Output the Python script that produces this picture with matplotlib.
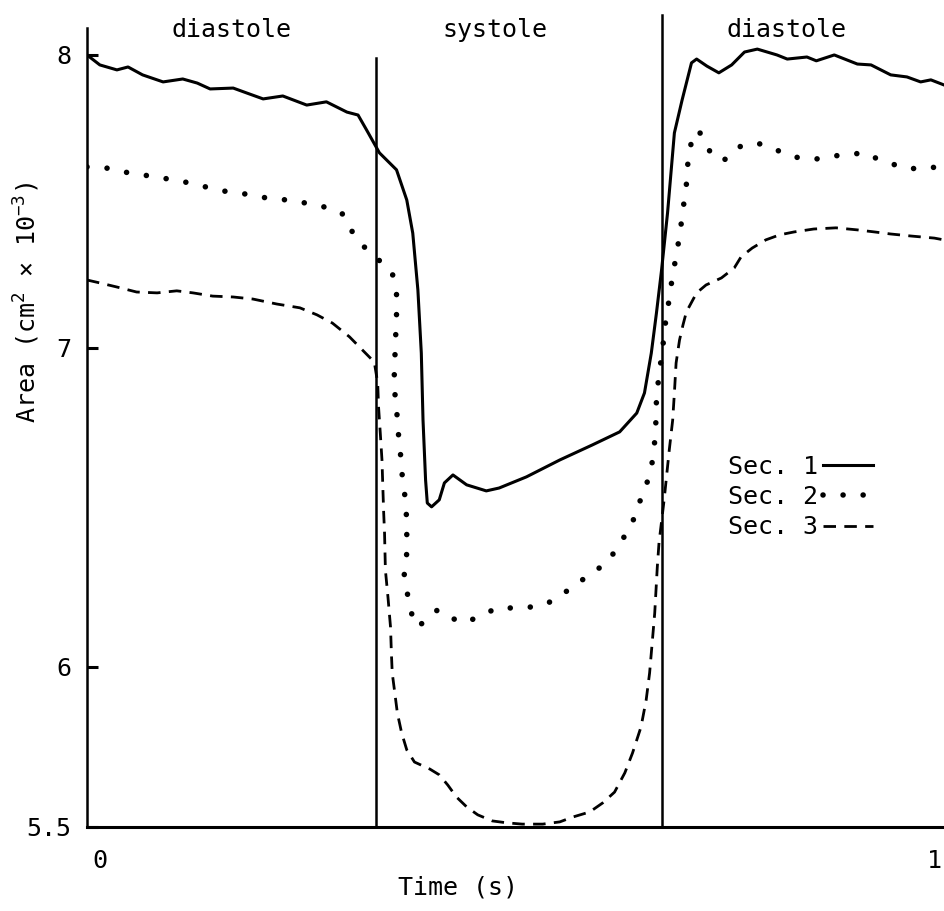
import numpy as np
import matplotlib.pyplot as plt
import matplotlib.transforms as mtransforms

plt.rcParams['font.family'] = 'DejaVu Sans Mono'
plt.rcParams['mathtext.fontset'] = 'custom'
plt.rcParams['mathtext.rm'] = 'DejaVu Sans Mono'
plt.rcParams['mathtext.default'] = 'rm'

# time (s) and area (cm^2 x 10^-3)
t1 = [0.000, 0.015, 0.035, 0.048, 0.065, 0.089, 0.112, 0.129, 0.144, 0.171, 0.187, 0.206,
      0.229, 0.257, 0.280, 0.304, 0.317, 0.327, 0.342, 0.362, 0.374, 0.381, 0.387, 0.391,
      0.393, 0.396, 0.398, 0.403, 0.412, 0.418, 0.428, 0.444, 0.467, 0.482, 0.514, 0.553,
      0.591, 0.623, 0.643, 0.652, 0.660, 0.666, 0.672, 0.679, 0.687, 0.696, 0.707, 0.713,
      0.725, 0.739, 0.754, 0.769, 0.784, 0.807, 0.819, 0.842, 0.853, 0.874, 0.901, 0.917,
      0.940, 0.959, 0.975, 0.987, 1.002]
sec1 = [8.000, 7.966, 7.949, 7.959, 7.932, 7.908, 7.918, 7.904, 7.884, 7.887, 7.870, 7.850,
        7.860, 7.829, 7.840, 7.805, 7.795, 7.744, 7.666, 7.608, 7.505, 7.392, 7.198, 6.984,
        6.774, 6.586, 6.514, 6.502, 6.524, 6.577, 6.602, 6.571, 6.552, 6.561, 6.596, 6.649,
        6.696, 6.737, 6.796, 6.859, 6.984, 7.119, 7.266, 7.461, 7.734, 7.846, 7.973, 7.986,
        7.962, 7.939, 7.966, 8.010, 8.020, 8.000, 7.986, 7.993, 7.980, 8.000, 7.969, 7.966,
        7.932, 7.925, 7.908, 7.915, 7.898]

t2 = [0.000, 0.023, 0.039, 0.056, 0.077, 0.105, 0.134, 0.159, 0.184, 0.210, 0.234, 0.255,
      0.278, 0.298, 0.307, 0.319, 0.333, 0.346, 0.357, 0.362, 0.362, 0.361, 0.360, 0.359,
      0.362, 0.364, 0.367, 0.369, 0.373, 0.374, 0.374, 0.371, 0.375, 0.379, 0.386, 0.397,
      0.410, 0.424, 0.439, 0.459, 0.479, 0.500, 0.519, 0.537, 0.555, 0.574, 0.591, 0.609,
      0.623, 0.637, 0.644, 0.654, 0.662, 0.665, 0.666, 0.669, 0.673, 0.676, 0.680, 0.685,
      0.690, 0.694, 0.696, 0.699, 0.702, 0.703, 0.707, 0.715, 0.723, 0.730, 0.744, 0.762,
      0.782, 0.801, 0.815, 0.834, 0.853, 0.873, 0.895, 0.912, 0.926, 0.945, 0.959, 0.975,
      0.988, 1.000]
sec2 = [7.618, 7.614, 7.601, 7.597, 7.584, 7.573, 7.553, 7.536, 7.526, 7.512, 7.505, 7.495,
        7.481, 7.461, 7.410, 7.362, 7.317, 7.290, 7.256, 7.191, 7.113, 7.038, 6.962, 6.884,
        6.812, 6.737, 6.658, 6.589, 6.514, 6.439, 6.357, 6.288, 6.226, 6.172, 6.125, 6.147,
        6.179, 6.157, 6.138, 6.157, 6.185, 6.185, 6.188, 6.197, 6.226, 6.263, 6.295, 6.329,
        6.386, 6.445, 6.502, 6.567, 6.652, 6.737, 6.837, 6.918, 6.991, 7.075, 7.150, 7.249,
        7.328, 7.403, 7.447, 7.515, 7.580, 7.652, 7.703, 7.744, 7.703, 7.662, 7.638, 7.686,
        7.700, 7.686, 7.662, 7.648, 7.645, 7.655, 7.662, 7.666, 7.642, 7.625, 7.611, 7.614,
        7.618, 7.608]

t3 = [0.000, 0.015, 0.035, 0.058, 0.082, 0.105, 0.124, 0.147, 0.171, 0.194, 0.222, 0.249,
      0.269, 0.287, 0.307, 0.322, 0.336, 0.340, 0.341, 0.343, 0.345, 0.346, 0.347, 0.348,
      0.349, 0.352, 0.355, 0.356, 0.357, 0.360, 0.363, 0.368, 0.374, 0.383, 0.401, 0.412,
      0.422, 0.432, 0.444, 0.457, 0.474, 0.491, 0.509, 0.533, 0.553, 0.568, 0.588, 0.603,
      0.617, 0.629, 0.638, 0.648, 0.654, 0.658, 0.661, 0.664, 0.667, 0.669, 0.675, 0.681,
      0.685, 0.687, 0.689, 0.693, 0.697, 0.701, 0.713, 0.724, 0.742, 0.757, 0.765, 0.778,
      0.794, 0.810, 0.827, 0.850, 0.876, 0.901, 0.921, 0.940, 0.964, 0.991, 1.002]
sec3 = [7.232, 7.222, 7.208, 7.191, 7.188, 7.195, 7.188, 7.177, 7.174, 7.167, 7.150, 7.137,
        7.113, 7.085, 7.038, 6.994, 6.956, 6.890, 6.815, 6.734, 6.649, 6.564, 6.483, 6.420,
        6.304, 6.219, 6.125, 6.044, 5.981, 5.919, 5.856, 5.794, 5.741, 5.703, 5.681, 5.663,
        5.631, 5.594, 5.563, 5.538, 5.519, 5.513, 5.509, 5.509, 5.516, 5.531, 5.547, 5.575,
        5.609, 5.669, 5.731, 5.813, 5.897, 5.981, 6.075, 6.169, 6.313, 6.389, 6.524, 6.680,
        6.774, 6.859, 6.953, 7.027, 7.078, 7.123, 7.188, 7.215, 7.239, 7.273, 7.311, 7.341,
        7.369, 7.386, 7.396, 7.406, 7.410, 7.403, 7.396, 7.389, 7.382, 7.375, 7.369]

systole_start = 0.338
systole_end = 0.672

phase_names = ['diastole', 'systole', 'diastole']
phase_centers = [0.169, 0.477, 0.818]

area_ticks = [5.5, 6, 7, 8]
area_labels = ['5.5', '6', '7', '8']
time_ticks = [0, 1]
time_labels = ['0', '1']

# the hand-drawn y axis is not evenly spaced
axis_vals = [5.0, 5.5, 6.0, 7.0, 8.0, 9.0]
axis_pos = [-320, 0, 160, 479, 772, 1065]


def fwd(y):
    return np.interp(y, axis_vals, axis_pos)


def inv(p):
    return np.interp(p, axis_pos, axis_vals)


fig = plt.figure(figsize=(9.45, 9.11), dpi=100)
ax = fig.add_axes([87 / 945, 84 / 911, 858 / 945, 799 / 911])
ax.set_yscale('function', functions=(fwd, inv))

ax.plot(t1, sec1, color='black', lw=2.2, label='Sec. 1')
ax.plot(t2, sec2, color='black', lw=4, linestyle=(0, (0.01, 3.6)),
        dash_capstyle='round', label='Sec. 2')
ax.plot(t3, sec3, color='black', lw=2.0, linestyle=(0, (4.5, 3.0)), label='Sec. 3')

ax.axvline(systole_start, ymin=0, ymax=0.962, color='black', lw=1.8)
ax.axvline(systole_end, ymin=0, ymax=1.016, color='black', lw=1.8, clip_on=False)

ax.set_xlim(0, 1.0035)
ax.set_ylim(5.5, 8.092)

for name, xc in zip(phase_names, phase_centers):
    ax.text(xc, 0.9975, name, transform=ax.get_xaxis_transform(),
            ha='center', va='center', fontsize=18)

ax.set_yticks(area_ticks)
ax.set_yticklabels(area_labels)
ax.set_xticks(time_ticks)
ax.set_xticklabels(time_labels)
ax.tick_params(axis='y', direction='in', length=8, width=2.2, labelsize=18, pad=11)
ax.tick_params(axis='x', length=0, labelsize=18, pad=16)
ax.minorticks_off()

xlabels = ax.get_xticklabels()
xlabels[0].set_transform(xlabels[0].get_transform() +
                         mtransforms.ScaledTranslation(0.13, 0, fig.dpi_scale_trans))
xlabels[-1].set_horizontalalignment('right')

for side in ['top', 'right']:
    ax.spines[side].set_visible(False)
ax.spines['left'].set_linewidth(1.8)
ax.spines['bottom'].set_linewidth(2.2)

fig.text(27 / 945, 1 - 302 / 911, r'Area (cm$^{2}$ × 10$^{-3}$)', rotation=90,
         ha='center', va='center', fontsize=18)
fig.text(458 / 945, 1 - 888 / 911, 'Time (s)', ha='center', va='center', fontsize=18)

ax.legend(loc='upper left', bbox_to_anchor=(728 / 945, 1 - 455 / 911),
          bbox_transform=fig.transFigure, markerfirst=False, frameon=False,
          fontsize=18, handlelength=2.0, handletextpad=0.2, labelspacing=0.25,
          borderpad=0, borderaxespad=0)

fig.savefig('out.png', dpi=100)
